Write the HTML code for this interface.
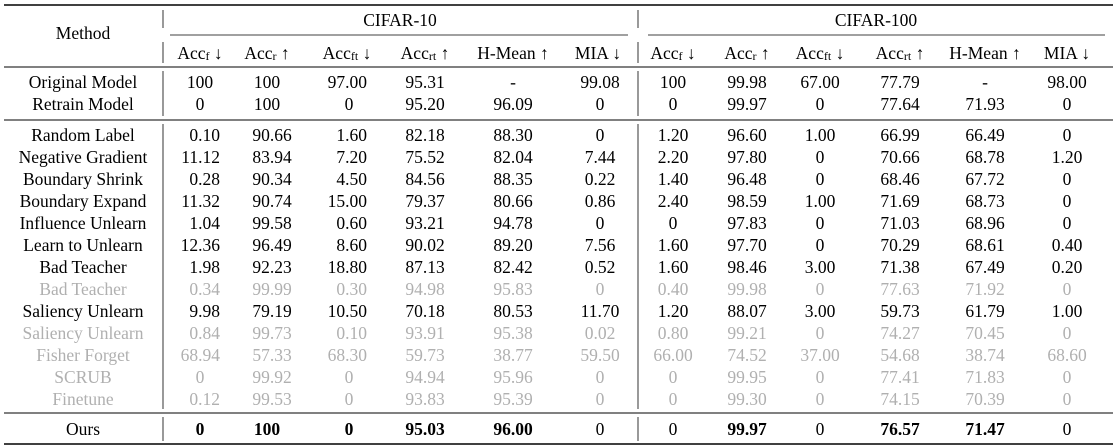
<!DOCTYPE html>
<html><head><meta charset="utf-8"><style>
html,body{margin:0;padding:0;background:#fff;}
svg{display:block;font-family:"Liberation Serif",serif;font-size:17.5px;}
text{dominant-baseline:central;}
.c{text-anchor:middle;}
.e{text-anchor:end;}
.g{fill:#b0b0b0;}
.b{font-weight:bold;}
</style></head><body>
<svg width="1117" height="447" viewBox="0 0 1117 447" xmlns="http://www.w3.org/2000/svg">
<line x1="4" y1="5" x2="1113" y2="5" stroke="#000" stroke-width="1.4"/>
<line x1="170" y1="35" x2="628" y2="35" stroke="#000" stroke-width="0.8"/>
<line x1="648" y1="35" x2="1105" y2="35" stroke="#000" stroke-width="0.8"/>
<line x1="4" y1="67" x2="1113" y2="67" stroke="#000" stroke-width="0.9"/>
<line x1="4" y1="120" x2="1113" y2="120" stroke="#000" stroke-width="0.9"/>
<line x1="4" y1="413" x2="1113" y2="413" stroke="#000" stroke-width="0.9"/>
<line x1="4" y1="444" x2="1113" y2="444" stroke="#000" stroke-width="1.4"/>
<g stroke="#000" stroke-width="0.8">
<line x1="163" y1="10" x2="163" y2="28"/><line x1="163" y1="42" x2="163" y2="63"/>
<line x1="163" y1="71" x2="163" y2="116"/><line x1="163" y1="124" x2="163" y2="409"/>
<line x1="163" y1="417" x2="163" y2="441"/>
<line x1="638" y1="10" x2="638" y2="28"/><line x1="638" y1="42" x2="638" y2="63"/>
<line x1="638" y1="71" x2="638" y2="116"/><line x1="638" y1="124" x2="638" y2="409"/>
<line x1="638" y1="417" x2="638" y2="441"/>
</g>
<text class="c" x="83" y="33">Method</text>
<text class="c" x="400" y="20">CIFAR-10</text>
<text class="c" x="876" y="20">CIFAR-100</text>
<g transform="translate(0,53)">
<text class="c" x="200">Acc<tspan font-size="12" dy="3">f</tspan><tspan dy="-3"> ↓</tspan></text>
<text class="c" x="267">Acc<tspan font-size="12" dy="3">r</tspan><tspan dy="-3"> ↑</tspan></text>
<text class="c" x="347">Acc<tspan font-size="12" dy="3">ft</tspan><tspan dy="-3"> ↓</tspan></text>
<text class="c" x="425">Acc<tspan font-size="12" dy="3">rt</tspan><tspan dy="-3"> ↑</tspan></text>
<text class="c" x="513">H-Mean ↑</text>
<text class="c" x="598">MIA ↓</text>
<text class="c" x="673">Acc<tspan font-size="12" dy="3">f</tspan><tspan dy="-3"> ↓</tspan></text>
<text class="c" x="747">Acc<tspan font-size="12" dy="3">r</tspan><tspan dy="-3"> ↑</tspan></text>
<text class="c" x="820">Acc<tspan font-size="12" dy="3">ft</tspan><tspan dy="-3"> ↓</tspan></text>
<text class="c" x="900">Acc<tspan font-size="12" dy="3">rt</tspan><tspan dy="-3"> ↑</tspan></text>
<text class="c" x="985">H-Mean ↑</text>
<text class="c" x="1067">MIA ↓</text>
</g>
<g transform="translate(0,82)"><text class="c" x="83">Original Model</text><text class="c" x="200">100</text><text class="c" x="267">100</text><text class="e" x="367">97.00</text><text class="c" x="425">95.31</text><text class="c" x="513">-</text><text class="c" x="600">99.08</text><text class="c" x="673">100</text><text class="c" x="747">99.98</text><text class="c" x="820">67.00</text><text class="c" x="900">77.79</text><text class="c" x="985">-</text><text class="c" x="1067">98.00</text></g>
<g transform="translate(0,104)"><text class="c" x="83">Retrain Model</text><text class="c" x="200">0</text><text class="c" x="267">100</text><text class="c" x="349">0</text><text class="c" x="425">95.20</text><text class="c" x="513">96.09</text><text class="c" x="600">0</text><text class="c" x="673">0</text><text class="c" x="747">99.97</text><text class="c" x="820">0</text><text class="c" x="900">77.64</text><text class="c" x="985">71.93</text><text class="c" x="1067">0</text></g>

<g transform="translate(0,135)"><text class="c" x="83">Random Label</text><text class="e" x="220">0.10</text><text class="c" x="272">90.66</text><text class="e" x="367">1.60</text><text class="c" x="425">82.18</text><text class="c" x="513">88.30</text><text class="c" x="600">0</text><text class="c" x="673">1.20</text><text class="c" x="747">96.60</text><text class="c" x="820">1.00</text><text class="c" x="900">66.99</text><text class="c" x="985">66.49</text><text class="c" x="1067">0</text></g>
<g transform="translate(0,157)"><text class="c" x="83">Negative Gradient</text><text class="e" x="220">11.12</text><text class="c" x="272">83.94</text><text class="e" x="367">7.20</text><text class="c" x="425">75.52</text><text class="c" x="513">82.04</text><text class="c" x="600">7.44</text><text class="c" x="673">2.20</text><text class="c" x="747">97.80</text><text class="c" x="820">0</text><text class="c" x="900">70.66</text><text class="c" x="985">68.78</text><text class="c" x="1067">1.20</text></g>
<g transform="translate(0,179)"><text class="c" x="83">Boundary Shrink</text><text class="e" x="220">0.28</text><text class="c" x="272">90.34</text><text class="e" x="367">4.50</text><text class="c" x="425">84.56</text><text class="c" x="513">88.35</text><text class="c" x="600">0.22</text><text class="c" x="673">1.40</text><text class="c" x="747">96.48</text><text class="c" x="820">0</text><text class="c" x="900">68.46</text><text class="c" x="985">67.72</text><text class="c" x="1067">0</text></g>
<g transform="translate(0,201)"><text class="c" x="83">Boundary Expand</text><text class="e" x="220">11.32</text><text class="c" x="272">90.74</text><text class="e" x="367">15.00</text><text class="c" x="425">79.37</text><text class="c" x="513">80.66</text><text class="c" x="600">0.86</text><text class="c" x="673">2.40</text><text class="c" x="747">98.59</text><text class="c" x="820">1.00</text><text class="c" x="900">71.69</text><text class="c" x="985">68.73</text><text class="c" x="1067">0</text></g>
<g transform="translate(0,223)"><text class="c" x="83">Influence Unlearn</text><text class="e" x="220">1.04</text><text class="c" x="272">99.58</text><text class="e" x="367">0.60</text><text class="c" x="425">93.21</text><text class="c" x="513">94.78</text><text class="c" x="600">0</text><text class="c" x="673">0</text><text class="c" x="747">97.83</text><text class="c" x="820">0</text><text class="c" x="900">71.03</text><text class="c" x="985">68.96</text><text class="c" x="1067">0</text></g>
<g transform="translate(0,245)"><text class="c" x="83">Learn to Unlearn</text><text class="e" x="220">12.36</text><text class="c" x="272">96.49</text><text class="e" x="367">8.60</text><text class="c" x="425">90.02</text><text class="c" x="513">89.20</text><text class="c" x="600">7.56</text><text class="c" x="673">1.60</text><text class="c" x="747">97.70</text><text class="c" x="820">0</text><text class="c" x="900">70.29</text><text class="c" x="985">68.61</text><text class="c" x="1067">0.40</text></g>
<g transform="translate(0,267)"><text class="c" x="83">Bad Teacher</text><text class="e" x="220">1.98</text><text class="c" x="272">92.23</text><text class="e" x="367">18.80</text><text class="c" x="425">87.13</text><text class="c" x="513">82.42</text><text class="c" x="600">0.52</text><text class="c" x="673">1.60</text><text class="c" x="747">98.46</text><text class="c" x="820">3.00</text><text class="c" x="900">71.38</text><text class="c" x="985">67.49</text><text class="c" x="1067">0.20</text></g>
<g class="g" transform="translate(0,289)"><text class="c" x="83">Bad Teacher</text><text class="e" x="220">0.34</text><text class="c" x="272">99.99</text><text class="e" x="367">0.30</text><text class="c" x="425">94.98</text><text class="c" x="513">95.83</text><text class="c" x="600">0</text><text class="c" x="673">0.40</text><text class="c" x="747">99.98</text><text class="c" x="820">0</text><text class="c" x="900">77.63</text><text class="c" x="985">71.92</text><text class="c" x="1067">0</text></g>
<g transform="translate(0,311)"><text class="c" x="83">Saliency Unlearn</text><text class="e" x="220">9.98</text><text class="c" x="272">79.19</text><text class="e" x="367">10.50</text><text class="c" x="425">70.18</text><text class="c" x="513">80.53</text><text class="c" x="600">11.70</text><text class="c" x="673">1.20</text><text class="c" x="747">88.07</text><text class="c" x="820">3.00</text><text class="c" x="900">59.73</text><text class="c" x="985">61.79</text><text class="c" x="1067">1.00</text></g>
<g class="g" transform="translate(0,333)"><text class="c" x="83">Saliency Unlearn</text><text class="e" x="220">0.84</text><text class="c" x="272">99.73</text><text class="e" x="367">0.10</text><text class="c" x="425">93.91</text><text class="c" x="513">95.38</text><text class="c" x="600">0.02</text><text class="c" x="673">0.80</text><text class="c" x="747">99.21</text><text class="c" x="820">0</text><text class="c" x="900">74.27</text><text class="c" x="985">70.45</text><text class="c" x="1067">0</text></g>
<g class="g" transform="translate(0,355)"><text class="c" x="83">Fisher Forget</text><text class="e" x="220">68.94</text><text class="c" x="272">57.33</text><text class="e" x="367">68.30</text><text class="c" x="425">59.73</text><text class="c" x="513">38.77</text><text class="c" x="600">59.50</text><text class="c" x="673">66.00</text><text class="c" x="747">74.52</text><text class="c" x="820">37.00</text><text class="c" x="900">54.68</text><text class="c" x="985">38.74</text><text class="c" x="1067">68.60</text></g>
<g class="g" transform="translate(0,377)"><text class="c" x="83">SCRUB</text><text class="c" x="200">0</text><text class="c" x="272">99.92</text><text class="c" x="349">0</text><text class="c" x="425">94.94</text><text class="c" x="513">95.96</text><text class="c" x="600">0</text><text class="c" x="673">0</text><text class="c" x="747">99.95</text><text class="c" x="820">0</text><text class="c" x="900">77.41</text><text class="c" x="985">71.83</text><text class="c" x="1067">0</text></g>
<g class="g" transform="translate(0,399)"><text class="c" x="83">Finetune</text><text class="e" x="220">0.12</text><text class="c" x="272">99.53</text><text class="c" x="349">0</text><text class="c" x="425">93.83</text><text class="c" x="513">95.39</text><text class="c" x="600">0</text><text class="c" x="673">0</text><text class="c" x="747">99.30</text><text class="c" x="820">0</text><text class="c" x="900">74.15</text><text class="c" x="985">70.39</text><text class="c" x="1067">0</text></g>

<g transform="translate(0,429)"><text class="c" x="83">Ours</text><text class="c b" x="200">0</text><text class="c b" x="267">100</text><text class="c b" x="349">0</text><text class="c b" x="425">95.03</text><text class="c b" x="513">96.00</text><text class="c" x="600">0</text><text class="c" x="673">0</text><text class="c b" x="747">99.97</text><text class="c" x="820">0</text><text class="c b" x="900">76.57</text><text class="c b" x="985">71.47</text><text class="c" x="1067">0</text></g>
</svg>
</body></html>
